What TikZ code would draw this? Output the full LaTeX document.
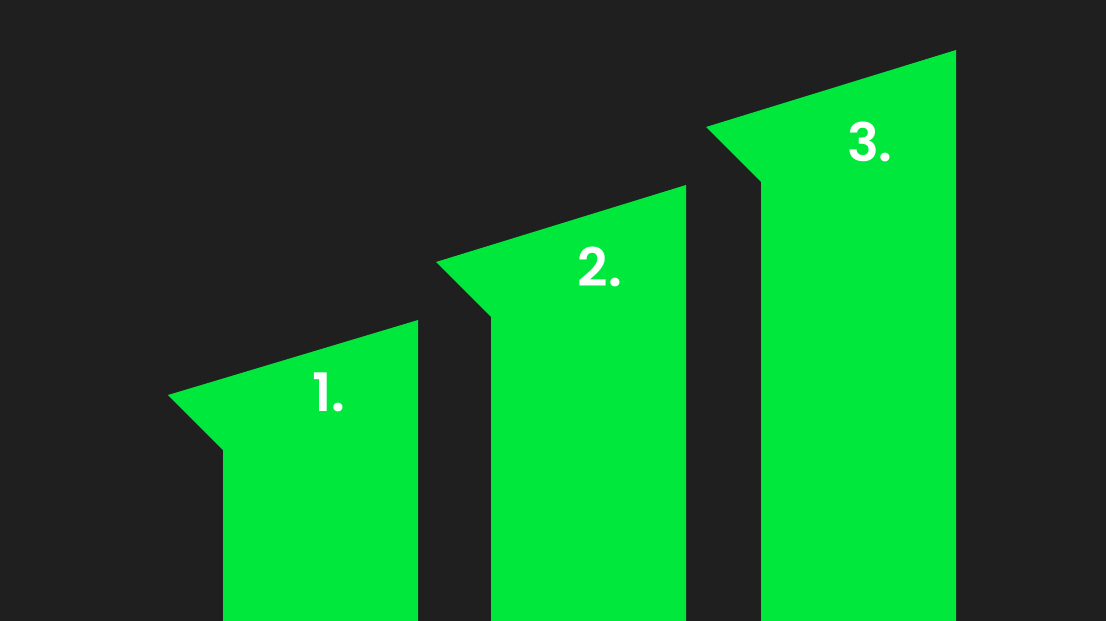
\documentclass[tikz,border=0pt]{standalone}
\usepackage{fontspec}
\setmainfont{Poppins}
\newfontfamily\numfont{Poppins}[UprightFont=* SemiBold]
\usepackage{xcolor}
\definecolor{bg}{HTML}{1F1F1F}
\definecolor{bargreen}{HTML}{00E83C}

\begin{document}
\begin{tikzpicture}[x=1pt,y=-1pt,
  numlabel/.style={text=white,font=\numfont\fontsize{53}{53}\selectfont,inner sep=0pt}]
% background and size
\fill[bg] (0,0) rectangle (1106,621);
\useasboundingbox (0,0) rectangle (1106,621);

% three rising bars: tip x, tip y, top-right y
\foreach \t/\ty/\ry [count=\i] in {168/395/320, 436/262/185, 706/127/50} {
  \fill[bargreen] (\t,\ty) -- (\t+250,\ry) -- (\t+250,621) -- (\t+55,621) -- (\t+55,\ty+55) -- cycle;
}

% numbers
\node[numlabel] (num1) at (329,392) {1.};
\node[numlabel] (num2) at (600,267) {2.};
\node[numlabel] (num3) at (870,142) {3.};
\end{tikzpicture}
\end{document}
